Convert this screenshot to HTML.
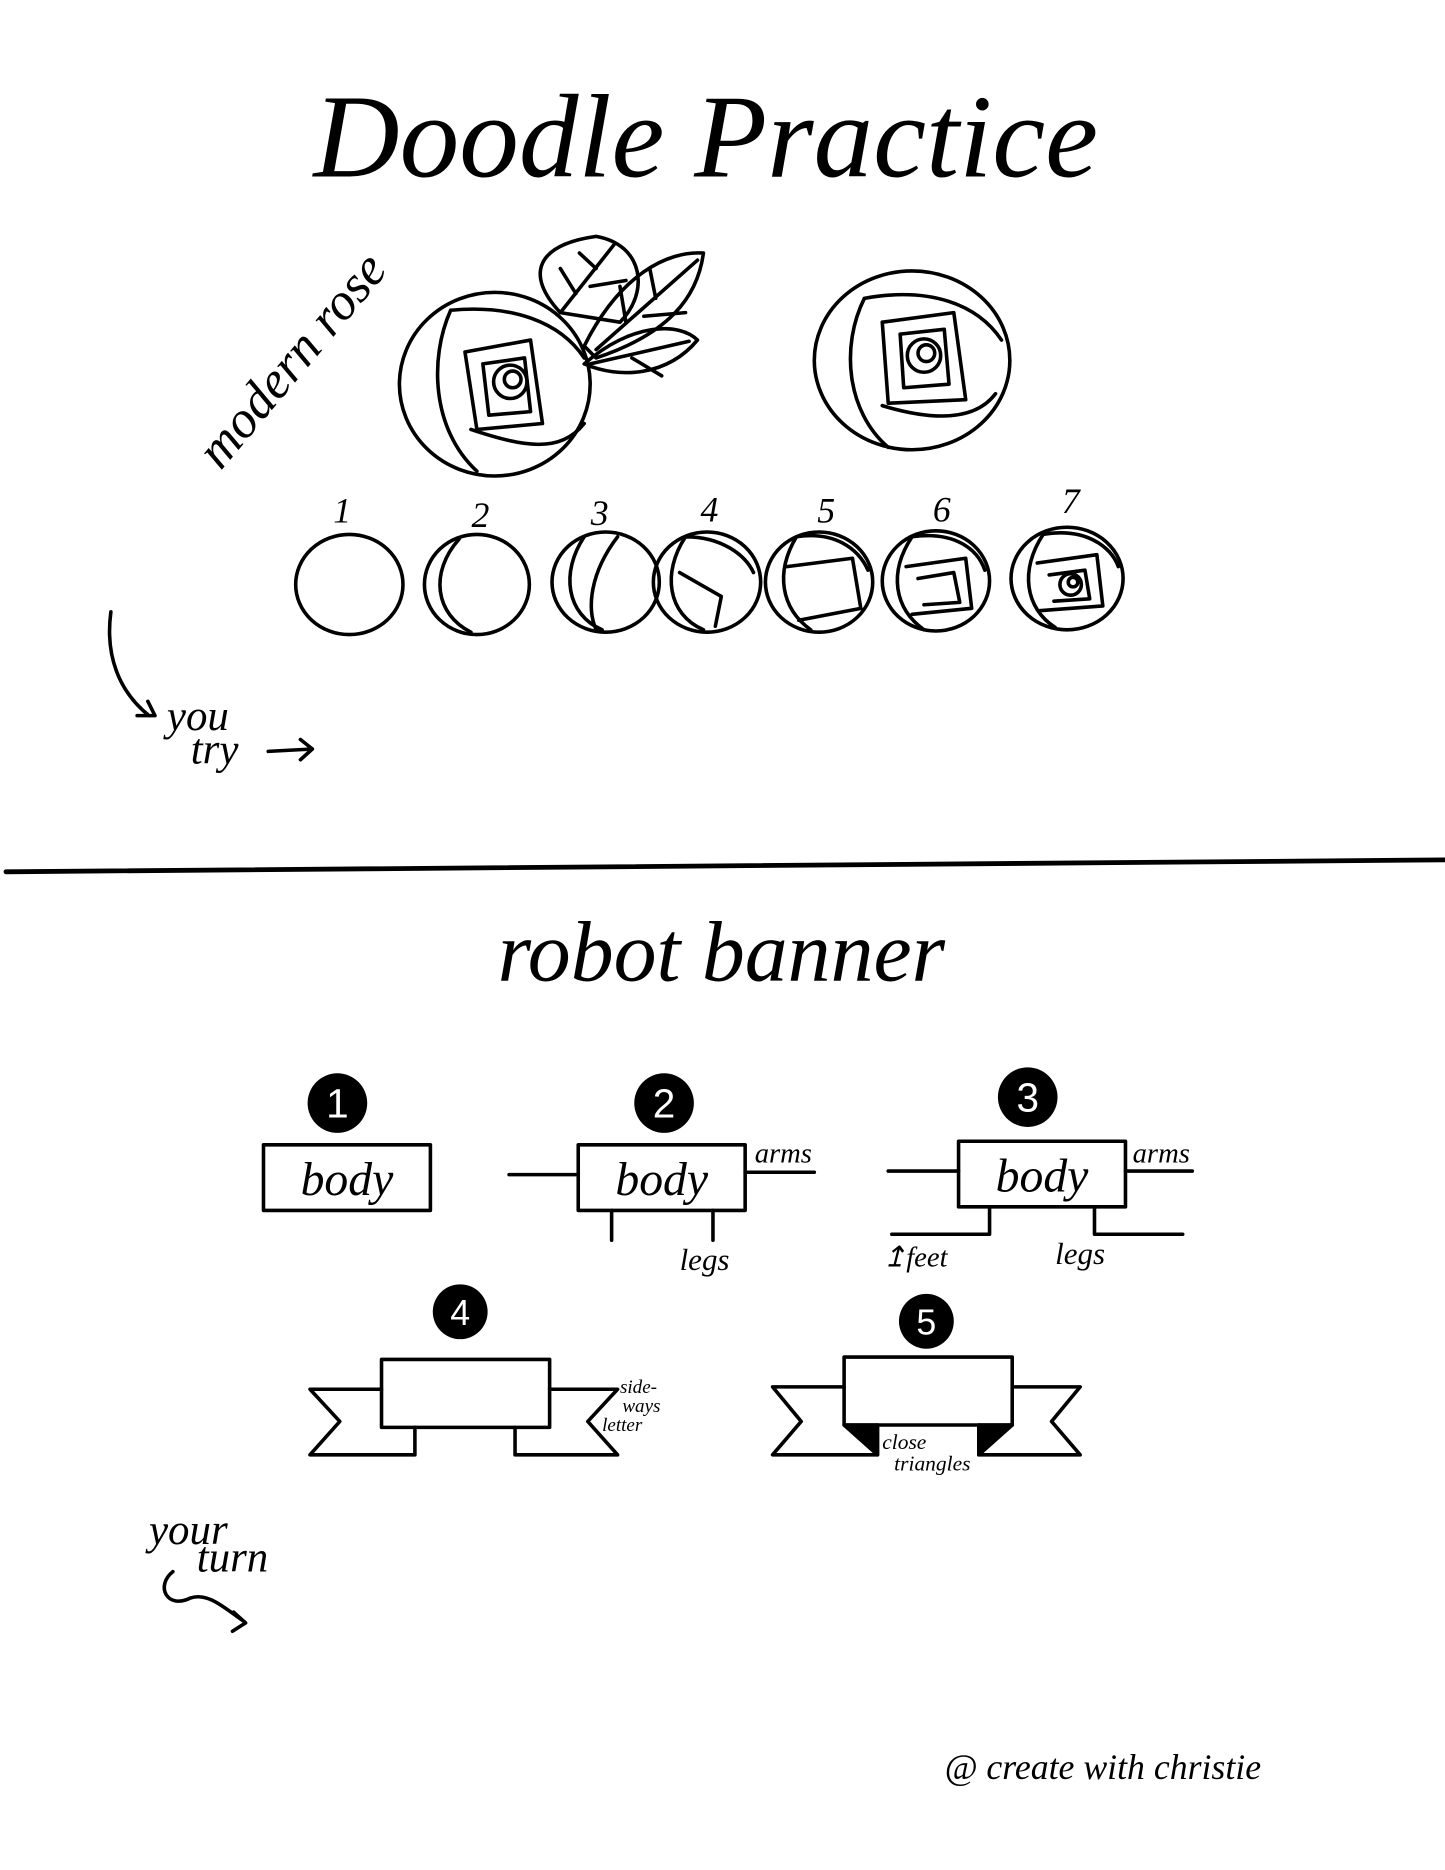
<!DOCTYPE html>
<html><head><meta charset="utf-8"><style>
html,body{margin:0;padding:0;background:#fff;}
svg{display:block;}
text{font-family:"Liberation Serif",serif;font-style:italic;fill:#000;}
</style></head><body>
<svg width="1445" height="1870" viewBox="0 0 1212 1568" xmlns="http://www.w3.org/2000/svg">
<rect width="1212" height="1568" fill="#fff"/>
<g fill="none" stroke="#000" stroke-width="3" stroke-linecap="round" stroke-linejoin="round">
<text x="592" y="148" font-size="100" text-anchor="middle" stroke="none">Doodle Practice</text>
<text x="0" y="0" font-size="44" stroke="none" transform="translate(185,395) rotate(-50)">modern rose</text>
<path d="M470 262 C440 230 450 205 500 198 C540 205 545 245 520 270 Z"/>
<path d="M470 262 L515 205 M483 246 L470 225 M500 225 L486 212 M495 240 L525 235"/>
<path d="M490 290 C520 230 560 210 590 212 C585 250 560 280 500 300 Z"/>
<path d="M500 293 L585 218 M525 270 L520 240 M550 250 L545 225 M540 265 L575 262"/>
<path d="M490 305 C530 270 570 270 585 285 C560 315 520 318 490 305 Z"/>
<path d="M495 305 L578 286 M530 300 L555 315"/>
<ellipse cx="415" cy="322" rx="80" ry="77"/>
<path d="M378 260 C360 300 362 360 400 395 M378 260 C430 255 470 270 490 300 M395 360 C440 375 470 380 490 355 M390 295 L445 285 L455 355 L400 360 Z M405 305 L440 300 L445 345 L410 348 Z"/>
<circle cx="428" cy="320" r="14"/><circle cx="430" cy="318" r="7"/>
<ellipse cx="765" cy="302" rx="82" ry="75"/>
<path d="M725 250 C705 290 710 345 745 375 M725 250 C780 240 820 255 840 285 M740 340 C790 355 820 350 835 330 M740 270 L800 262 L810 335 L745 338 Z M755 280 L792 276 L796 322 L758 325 Z"/>
<circle cx="775" cy="298" r="14"/><circle cx="777" cy="296" r="7"/>
<g stroke="none" font-size="30" text-anchor="middle"><text x="287" y="438">1</text><text x="403" y="442">2</text><text x="503" y="440">3</text><text x="595" y="437">4</text><text x="693" y="438">5</text><text x="790" y="437">6</text><text x="898" y="430">7</text></g>
<ellipse cx="293" cy="490" rx="45" ry="42"/>
<ellipse cx="400" cy="490" rx="44" ry="42"/><path d="M385 452 C360 480 365 515 395 530"/>
<ellipse cx="508" cy="488" rx="45" ry="42"/><path d="M490 450 C470 480 475 515 505 528 M518 450 C495 480 492 510 500 528"/>
<ellipse cx="593" cy="488" rx="45" ry="42"/><path d="M575 450 C555 480 560 515 590 528 M575 450 C605 450 625 465 632 480 M570 480 L605 500 L600 525"/>
<ellipse cx="687" cy="488" rx="45" ry="42"/><path d="M668 450 C650 480 655 510 680 528 M668 450 C700 445 720 460 728 478 M660 475 L715 468 L722 510 L670 520"/>
<ellipse cx="785" cy="487" rx="45" ry="42"/><path d="M765 450 C745 480 750 510 775 528 M765 450 C800 445 820 460 826 478 M760 475 L810 468 L815 510 L765 515 M770 485 L800 480 L805 505 L775 507"/>
<ellipse cx="895" cy="485" rx="47" ry="43"/><path d="M875 448 C855 478 860 510 885 526 M875 448 C910 442 932 458 938 475 M870 472 L920 465 L925 508 L872 512 M880 482 L910 478 L914 502 L884 504"/>
<circle cx="898" cy="490" r="9"/><circle cx="900" cy="488" r="4"/>
<path d="M93 513 C88 550 100 580 125 600 M115 600 L130 600 L124 588"/>
<text x="140" y="612" font-size="36" stroke="none">you</text>
<text x="160" y="640" font-size="36" stroke="none">try</text>
<path d="M225 630 L262 628 M252 620 L262 628 L252 637"/>
<line x1="5" y1="731" x2="1212" y2="721" stroke-width="4"/>
<text x="605" y="822" font-size="72" text-anchor="middle" stroke="none">robot banner</text>
<g fill="#000" stroke="none"><circle cx="283" cy="925" r="25"/><circle cx="557" cy="925" r="25"/><circle cx="862" cy="920" r="25"/><circle cx="386" cy="1100" r="23"/><circle cx="777" cy="1108" r="23"/></g>
<g stroke="none" text-anchor="middle"><text x="283" y="937" font-size="34" style="fill:#fff;font-style:normal;font-family:'Liberation Sans',sans-serif">1</text><text x="557" y="937" font-size="34" style="fill:#fff;font-style:normal;font-family:'Liberation Sans',sans-serif">2</text><text x="862" y="932" font-size="34" style="fill:#fff;font-style:normal;font-family:'Liberation Sans',sans-serif">3</text><text x="386" y="1111" font-size="30" style="fill:#fff;font-style:normal;font-family:'Liberation Sans',sans-serif">4</text><text x="777" y="1119" font-size="30" style="fill:#fff;font-style:normal;font-family:'Liberation Sans',sans-serif">5</text></g>
<rect x="221" y="960" width="140" height="55"/>
<text x="291" y="1002" font-size="40" text-anchor="middle" stroke="none">body</text>
<rect x="485" y="960" width="140" height="55"/>
<text x="555" y="1002" font-size="40" text-anchor="middle" stroke="none">body</text>
<path d="M427 985 L485 985 M625 983 L683 983 M513 1015 L513 1040 M598 1015 L598 1040"/>
<text x="633" y="975" font-size="24" stroke="none">arms</text>
<text x="570" y="1065" font-size="26" stroke="none">legs</text>
<rect x="804" y="957" width="140" height="55"/>
<text x="874" y="999" font-size="40" text-anchor="middle" stroke="none">body</text>
<path d="M745 982 L804 982 M944 982 L1000 982 M830 1012 L830 1035 L748 1035 M918 1012 L918 1035 L992 1035"/>
<text x="950" y="975" font-size="24" stroke="none">arms</text>
<text x="740" y="1062" font-size="24" stroke="none">↥feet</text>
<text x="885" y="1060" font-size="26" stroke="none">legs</text>
<rect x="320" y="1140" width="141" height="57"/>
<path d="M320 1165 L260 1165 L285 1192 L260 1220 L348 1220 L348 1197 M432 1197 L432 1220 L518 1220 L493 1192 L518 1165 L461 1165"/>
<text x="520" y="1168" font-size="16" stroke="none">side-</text>
<text x="522" y="1184" font-size="16" stroke="none">ways</text>
<text x="505" y="1200" font-size="16" stroke="none">letter</text>
<rect x="708" y="1138" width="141" height="57"/>
<path d="M708 1163 L648 1163 L672 1192 L648 1220 L736 1220 M821 1220 L906 1220 L882 1192 L906 1163 L849 1163 M736 1195 L736 1220 M821 1195 L821 1220"/>
<path d="M708 1195 L736 1195 L736 1220 Z M849 1195 L821 1195 L821 1220 Z" fill="#000"/>
<text x="740" y="1215" font-size="18" stroke="none">close</text>
<text x="750" y="1233" font-size="18" stroke="none">triangles</text>
<text x="125" y="1295" font-size="36" stroke="none">your</text>
<text x="165" y="1318" font-size="36" stroke="none">turn</text>
<path d="M145 1318 C130 1330 140 1350 160 1340 C175 1335 190 1350 205 1360 M196 1352 L206 1361 L195 1368"/>
<text x="925" y="1492" font-size="30" text-anchor="middle" stroke="none">@ create with christie</text>
</g>
</svg>
</body></html>
